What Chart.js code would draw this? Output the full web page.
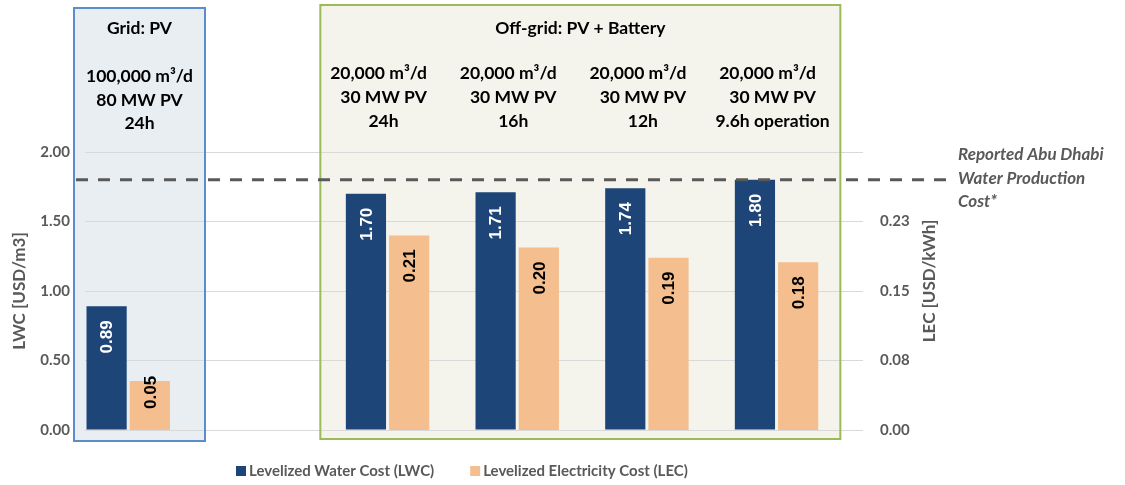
<!DOCTYPE html>
<html><head><meta charset="utf-8">
<script src="https://cdn.jsdelivr.net/npm/chart.js@4"></script>
<style>html,body{margin:0;padding:0;background:#fff;} canvas{display:block;}</style>
</head><body>
<canvas id="c" width="1125" height="485"></canvas>
<script>
// ---------- data ----------
const categories = ['Grid: PV 24h', '', 'Off-grid 24h', 'Off-grid 16h', 'Off-grid 12h', 'Off-grid 9.6h operation'];
const lwcValues = [0.89, null, 1.70, 1.71, 1.74, 1.80];
const lecValues = [0.053, null, 0.210, 0.197, 0.186, 0.181];
const spacerValues = [null, null, null, null, null, null];
const lwcTickLabels = ['0.00', '0.50', '1.00', '1.50', '2.00'];
const lecTickLabels = ['0.00', '0.08', '0.15', '0.23', ''];
const referenceCost = 1.80;
const referenceLabel = ['Reported Abu Dhabi', 'Water Production', 'Cost*'];
const gridHeader = ['Grid: PV', '100,000 m³/d', '80 MW PV', '24h'];
const offGridTitle = 'Off-grid: PV + Battery';
const offGridColumns = [
  ['20,000 m³/d', '30 MW PV', '24h'],
  ['20,000 m³/d', '30 MW PV', '16h'],
  ['20,000 m³/d', '30 MW PV', '12h'],
  ['20,000 m³/d', '30 MW PV', '9.6h operation']
];
const seriesNames = ['Levelized Water Cost (LWC)', 'Levelized Electricity Cost (LEC)'];
const axisTitles = ['LWC [USD/m3]', 'LEC [USD/kWh]'];

// ---------- style ----------
const FONT = 'Lato, "Open Sans", sans-serif';
const DARK = '#1d4577';
const ORANGE = '#f5be8e';
const GREY = '#595959';

const decor = {
  id: 'decor',
  beforeDraw(chart) {
    const {ctx, chartArea: a, scales: {x}} = chart;
    const cw = x.width / categories.length;
    const catLeft = i => a.left + i * cw;
    ctx.save();
    ctx.fillStyle = '#e9eef3';
    ctx.fillRect(a.left - 11, 8, catLeft(0) + 120 - (a.left - 11), a.bottom + 11 - 8);
    ctx.fillStyle = '#f4f4ec';
    ctx.fillRect(catLeft(2) - 24, 5, catLeft(5) + 107 - (catLeft(2) - 24), a.bottom + 9 - 5);
    ctx.restore();
  },
  beforeDatasetsDraw(chart) {
    const {ctx, chartArea: a, scales: {x}} = chart;
    const cw = x.width / categories.length;
    const catLeft = i => a.left + i * cw;
    ctx.save();
    ctx.lineWidth = 2;
    ctx.strokeStyle = '#5b8ccb';
    ctx.strokeRect(a.left - 11, 8, catLeft(0) + 120 - (a.left - 11), a.bottom + 11 - 8);
    ctx.strokeStyle = '#9bbb59';
    ctx.strokeRect(catLeft(2) - 24, 5, catLeft(5) + 107 - (catLeft(2) - 24), a.bottom + 9 - 5);
    ctx.restore();
  },
  afterDatasetsDraw(chart) {
    const {ctx, chartArea: a, scales: {y}} = chart;
    ctx.save();
    // value labels
    ctx.font = 'bold 17px "Liberation Sans", Arial, sans-serif';
    ctx.textBaseline = 'middle';
    [0, 1].forEach(di => {
      const meta = chart.getDatasetMeta(di);
      const vals = chart.data.datasets[di].data;
      meta.data.forEach((bar, i) => {
        if (vals[i] == null) return;
        const txt = vals[i].toFixed(2);
        const h = bar.base - bar.y;
        const endY = h < 60 ? bar.y - 5 : bar.y + 14;
        ctx.save();
        ctx.translate(bar.x, endY);
        ctx.rotate(-Math.PI / 2);
        ctx.textAlign = 'right';
        ctx.fillStyle = di === 0 ? '#ffffff' : '#000000';
        ctx.fillText(txt, 0, 1);
        ctx.restore();
      });
    });
    // reference dashed line
    const ry = y.getPixelForValue(referenceCost);
    ctx.strokeStyle = GREY;
    ctx.lineWidth = 3;
    ctx.setLineDash([12, 10]);
    ctx.beginPath();
    ctx.moveTo(a.left - 9, ry);
    ctx.lineTo(a.right + 83, ry);
    ctx.stroke();
    ctx.setLineDash([]);
    ctx.restore();
  },
  afterDraw(chart) {
    const {ctx, chartArea: a, scales: {x}} = chart;
    const cw = x.width / categories.length;
    const catLeft = i => a.left + i * cw;
    ctx.save();
    ctx.textBaseline = 'middle';
    ctx.textAlign = 'center';
    ctx.fillStyle = '#000';
    ctx.font = `bold 17.5px ${FONT}`;
    // grid header
    const gcx = ((a.left - 11) + (catLeft(0) + 120)) / 2;
    const gys = [28, 76, 100, 123];
    gridHeader.forEach((t, k) => ctx.fillText(t, gcx, gys[k]));
    // off grid header
    const ocx = ((catLeft(2) - 24) + (catLeft(5) + 107)) / 2;
    ctx.fillText(offGridTitle, ocx, 28);
    const oys = [73, 97.5, 121.5];
    const slot = cw / 3;
    offGridColumns.forEach((col, c) => {
      const gc = catLeft(c + 2) + slot;
      col.forEach((t, k) => ctx.fillText(t, gc + (k === 0 ? -9 : -4), oys[k]));
    });
    // reference label
    ctx.textAlign = 'left';
    ctx.fillStyle = GREY;
    ctx.font = `italic bold 17px ${FONT}`;
    const rys = [155, 178.5, 202];
    referenceLabel.forEach((t, k) => ctx.fillText(t, a.right + 95, rys[k]));
    // axis titles
    ctx.font = `bold 17px ${FONT}`;
    ctx.textAlign = 'center';
    ctx.save();
    ctx.translate(20, (a.top + a.bottom) / 2);
    ctx.rotate(-Math.PI / 2);
    ctx.fillText(axisTitles[0], 0, 0);
    ctx.restore();
    ctx.save();
    ctx.translate(a.right + 67, 281);
    ctx.rotate(-Math.PI / 2);
    ctx.fillText(axisTitles[1], 0, 0);
    ctx.restore();
    // legend
    ctx.font = `bold 15px ${FONT}`;
    ctx.textAlign = 'left';
    let lx = 236;
    const ly = 471;
    chart.data.datasets.slice(0, 2).forEach(ds => {
      ctx.fillStyle = ds.backgroundColor;
      ctx.fillRect(lx, ly - 5, 10, 10);
      ctx.fillStyle = GREY;
      ctx.fillText(ds.label, lx + 13, ly);
      lx += 13 + ctx.measureText(ds.label).width + 36;
    });
    ctx.restore();
  }
};

const tickFont = {family: FONT, weight: 'bold', size: 15};

new Chart(document.getElementById('c'), {
  type: 'bar',
  data: {
    labels: categories,
    datasets: [
      {label: seriesNames[0], data: lwcValues, backgroundColor: DARK, yAxisID: 'y'},
      {label: seriesNames[1], data: lecValues, backgroundColor: ORANGE, yAxisID: 'y1'},
      {label: '', data: spacerValues, backgroundColor: 'rgba(0,0,0,0)', yAxisID: 'y'}
    ]
  },
  options: {
    responsive: false,
    devicePixelRatio: 1,
    animation: false,
    datasets: {bar: {categoryPercentage: 1, barPercentage: 0.93}},
    layout: {padding: {top: 152, bottom: 55, left: 0, right: 0}},
    plugins: {legend: {display: false}, tooltip: {enabled: false}, title: {display: false}},
    scales: {
      x: {display: false, offset: true},
      y: {
        position: 'left', min: 0, max: 2,
        ticks: {stepSize: 0.5, padding: 15, color: GREY, font: tickFont, callback: (v, i) => lwcTickLabels[i]},
        grid: {color: '#d9d9d9', lineWidth: 1, drawTicks: false},
        border: {display: false},
        afterFit(s) { s.width = 85; }
      },
      y1: {
        position: 'right', min: 0, max: 0.3,
        ticks: {stepSize: 0.075, padding: 17, color: GREY, font: tickFont, callback: (v, i) => lecTickLabels[i] ?? ''},
        grid: {display: false, drawTicks: false},
        border: {display: false},
        afterFit(s) { s.width = 262; }
      }
    }
  },
  plugins: [decor]
});
</script>
</body></html>
